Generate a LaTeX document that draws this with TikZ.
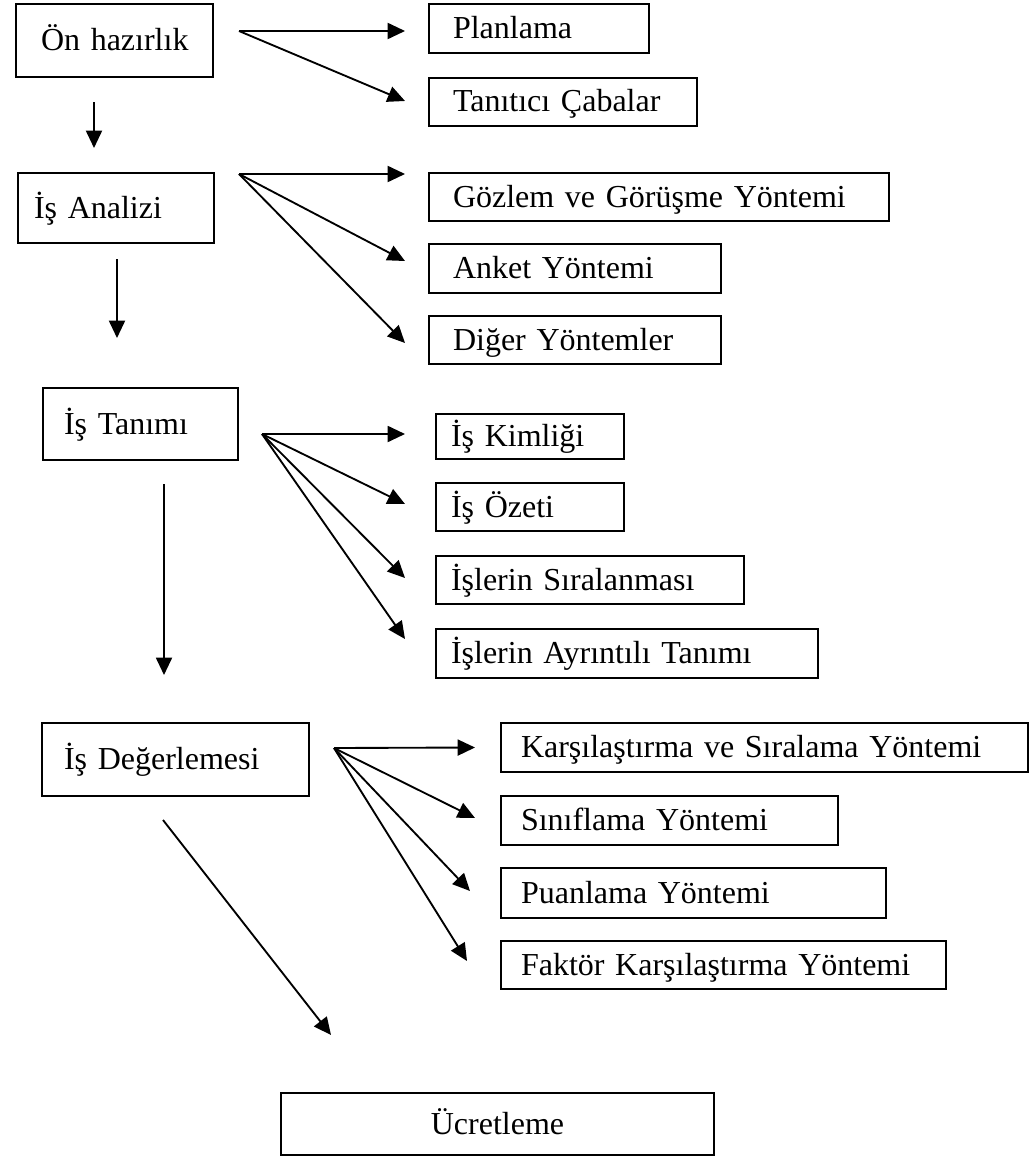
\documentclass[tikz,border=0pt]{standalone}
\usepackage{fontspec}
\setmainfont{Liberation Serif}
\usetikzlibrary{arrows.meta,calc}

\tikzset{
  box/.style={draw, line width=1.5pt, anchor=north west, align=left, inner ysep=0pt,
    text height=16pt, text depth=1pt, font=\fontsize{24}{28}\selectfont,
    execute at begin node=\hbox\bgroup, execute at end node=\egroup},
  flow/.style={line width=1.4pt, -{Triangle[length=13pt,width=12pt]}}
}

\begin{document}
\begin{tikzpicture}[x=0.75pt,y=0.75pt,yscale=-1,xscale=1]
    \useasboundingbox (0,0) rectangle (1029,1156);

    %Shape: Rectangle [left column]
    \node[box, inner xsep=18.75pt, text width=110.25pt, minimum height=54.75pt] (onh) at (15,3) {Ön hazırlık};
    \node[box, inner xsep=12pt, text width=123pt, minimum height=52.5pt] (analiz) at (17,172) {İş Analizi};
    \node[box, inner xsep=15.75pt, text width=114.75pt, minimum height=54pt] (tanim) at (42,387) {İş Tanımı};
    \node[box, inner xsep=16.5pt, text width=167.25pt, minimum height=54.75pt] (deger) at (41,722) {İş Değerlemesi};
    \node[box, align=center, inner xsep=15pt, text width=294.75pt, minimum height=46.5pt] (ucret) at (280,1092) {Ücretleme};

    %Shape: Rectangle [right column]
    \node[box, inner xsep=18pt, text width=129pt, minimum height=36.75pt] (plan) at (428,3) {Planlama};
    \node[box, inner xsep=18pt, text width=165pt, minimum height=36pt] (tanit) at (428,77) {Tanıtıcı Çabalar};
    \node[box, inner xsep=18pt, text width=309pt, minimum height=36pt] (gozlem) at (428,172) {Gözlem ve Görüşme Yöntemi};
    \node[box, inner xsep=18pt, text width=183pt, minimum height=36.75pt] (anket) at (428,243) {Anket Yöntemi};
    \node[box, inner xsep=18pt, text width=183pt, minimum height=36pt] (diger) at (428,315) {Diğer Yöntemler};
    \node[box, inner xsep=11.25pt, text width=118.5pt, minimum height=33.75pt] (kimlik) at (435,413) {İş Kimliği};
    \node[box, inner xsep=11.25pt, text width=118.5pt, minimum height=36pt] (ozet) at (435,482) {İş Özeti};
    \node[box, inner xsep=11.25pt, text width=208.5pt, minimum height=36pt] (sira) at (435,555) {İşlerin Sıralanması};
    \node[box, inner xsep=11.25pt, text width=264pt, minimum height=36.75pt] (ayrinti) at (435,628) {İşlerin Ayrıntılı Tanımı};
    \node[box, inner xsep=15pt, text width=365.25pt, minimum height=36.75pt] (karsi) at (500,722) {Karşılaştırma ve Sıralama Yöntemi};
    \node[box, inner xsep=15pt, text width=222.75pt, minimum height=36.75pt] (sinif) at (500,795) {Sınıflama Yöntemi};
    \node[box, inner xsep=15pt, text width=258.75pt, minimum height=37.5pt] (puan) at (500,867) {Puanlama Yöntemi};
    \node[box, inner xsep=15pt, text width=303.75pt, minimum height=36pt] (faktor) at (500,940) {Faktör Karşılaştırma Yöntemi};

    % fan origins
    \coordinate (onh-f) at ($(onh.east)+(25,-9.5)$);
    \coordinate (analiz-f) at ($(analiz.east)+(24,-34)$);
    \coordinate (tanim-f) at ($(tanim.east)+(23,10)$);
    \coordinate (deger-f) at ($(deger.east)+(24,-11.5)$);

    %Straight Lines [down]
    \draw[flow] ($(onh.south)+(-20.5,24)$) -- ($(analiz.north)+(-22,-24)$);
    \draw[flow] ($(analiz.south)+(1,15)$) -- ($(tanim.north)+(-23.5,-49)$);
    \draw[flow] ($(tanim.south)+(23.5,23)$) -- ($(deger.north)+(-11.5,-47)$);
    \draw[flow] ($(deger.south)+(-12.5,23)$) -- ($(ucret.north)+(-166.5,-57)$);

    %Straight Lines [Ön hazırlık]
    \draw[flow] (onh-f) -- ($(plan.west)+(-23,2.5)$);
    \draw[flow] (onh-f) -- ($(tanit.west)+(-23,-1)$);
    %Straight Lines [İş Analizi]
    \draw[flow] (analiz-f) -- ($(gozlem.west)+(-23,-23)$);
    \draw[flow] (analiz-f) -- ($(anket.west)+(-23,-7.5)$);
    \draw[flow] (analiz-f) -- ($(diger.west)+(-23,3)$);
    %Straight Lines [İş Tanımı]
    \draw[flow] (tanim-f) -- ($(kimlik.west)+(-30,-2.5)$);
    \draw[flow] (tanim-f) -- ($(ozet.west)+(-30,-3)$);
    \draw[flow] (tanim-f) -- ($(sira.west)+(-30,-2)$);
    \draw[flow] (tanim-f) -- ($(ayrinti.west)+(-30,-14.5)$);
    %Straight Lines [İş Değerlemesi]
    \draw[flow] (deger-f) -- ($(karsi.west)+(-25,0)$);
    \draw[flow] (deger-f) -- ($(sinif.west)+(-25,-2.5)$);
    \draw[flow] (deger-f) -- ($(puan.west)+(-30,-2)$);
    \draw[flow] (deger-f) -- ($(faktor.west)+(-33,-4)$);

\end{tikzpicture}
\end{document}
